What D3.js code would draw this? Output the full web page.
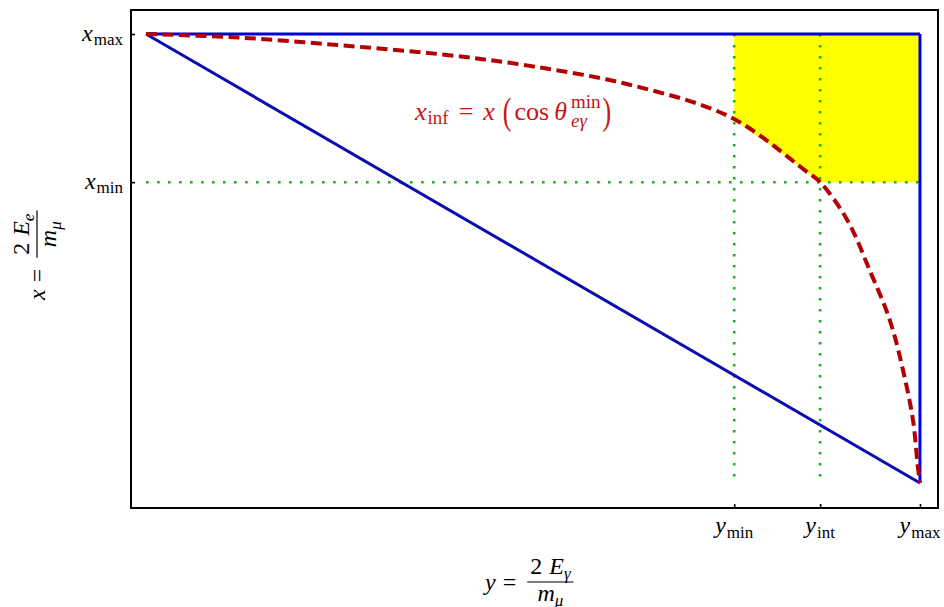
<!DOCTYPE html>
<html>
<head>
<meta charset="utf-8">
<script src="https://cdn.jsdelivr.net/npm/d3@7"></script>
<style>
  html, body { margin: 0; padding: 0; background: #fff; }
  svg text { font-family: 'Liberation Serif', 'DejaVu Serif', serif; }
</style>
</head>
<body>
<svg id="chart" width="944" height="607"></svg>
<script>
// Kinematic limits (reduced variables, arbitrary units)
const yLimitNames = ['min', 'int', 'max'];
const yLimitValues = [0.76, 0.871, 1.0];
const xLimitNames = ['max', 'min'];
const xLimitValues = [1.0, 0.67];

// Boundary of the allowed region: triangle corners (y, x)
const triangleY = [0, 1.0, 1.0, 0];
const triangleX = [1.0, 1.0, 0, 1.0];

// x_inf = x(cos θ_min) boundary curve, sampled (y, x)
const curveY = [0, 0.121, 0.251, 0.380, 0.496, 0.625, 0.755, 0.851, 0.871, 0.906, 0.935, 0.961, 0.978, 0.991, 0.997, 1.0];
const curveX = [1.0, 0.992, 0.975, 0.955, 0.929, 0.887, 0.815, 0.697, 0.670, 0.586, 0.474, 0.363, 0.252, 0.140, 0.040, 0.0];

const svg = d3.select('#chart');
const frame = { left: 131, right: 938, top: 10, bottom: 508 };

const sy = d3.scaleLinear().domain([-0.0194, 1.0233]).range([frame.left, frame.right]);
const sx = d3.scaleLinear().domain([-0.0557, 1.0535]).range([frame.bottom, frame.top]);

const yMin = yLimitValues[0], yInt = yLimitValues[1], yMax = yLimitValues[2];
const xMax = xLimitValues[0], xMin = xLimitValues[1];

// value of the sampled curve at a given y
function curveAt(y) {
  for (let i = 1; i < curveY.length; i++) {
    if (y <= curveY[i]) {
      const t = (y - curveY[i - 1]) / (curveY[i] - curveY[i - 1]);
      return curveX[i - 1] + t * (curveX[i] - curveX[i - 1]);
    }
  }
  return curveX[curveX.length - 1];
}

const curvePts = curveY.map((y, i) => [y, curveX[i]]);
const line = d3.line().x(d => sy(d[0])).y(d => sx(d[1]));
const smooth = d3.line().x(d => sy(d[0])).y(d => sx(d[1])).curve(d3.curveCatmullRom.alpha(0.5));

// Shaded region: above x_min, right of y_min, outside the x_inf curve
const arc = [[yMin, curveAt(yMin)], ...curvePts.filter(d => d[0] > yMin && d[0] < yInt), [yInt, xMin]];
const regionPath = smooth(arc) + 'L' + [[yMax, xMin], [yMax, xMax], [yMin, xMax]].map(d => sy(d[0]) + ',' + sx(d[1])).join('L') + 'Z';
svg.append('path')
  .attr('d', regionPath)
  .attr('fill', '#ffff00');

// Dotted guide lines
const green = '#14b814';
const guides = svg.append('g')
  .attr('stroke', green).attr('stroke-width', 2.6)
  .attr('stroke-dasharray', '2.6,8.4').attr('fill', 'none');
guides.append('path').attr('d', line([[0, xMin], [yMax, xMin]]));
guides.append('path').attr('d', line([[yMin, xMax], [yMin, 0]]));
guides.append('path').attr('d', line([[yInt, xMax], [yInt, 0]]));

// Triangle boundary
const triPts = triangleY.map((y, i) => [y, triangleX[i]]);
svg.append('path').attr('d', line([triPts[0], triPts[1]]))
  .attr('stroke', '#0000d2').attr('stroke-width', 3).attr('fill', 'none');
svg.append('path').attr('d', line([triPts[1], triPts[2]]))
  .attr('stroke', '#0000f0').attr('stroke-width', 3).attr('fill', 'none');
svg.append('path').attr('d', line([triPts[2], triPts[3]]))
  .attr('stroke', '#0c0cb0').attr('stroke-width', 3).attr('fill', 'none');

// x_inf curve
svg.append('path')
  .attr('d', smooth(curvePts))
  .attr('stroke', '#b30000').attr('stroke-width', 4)
  .attr('stroke-dasharray', '11,5.5').attr('fill', 'none');

// Frame
svg.append('rect')
  .attr('x', frame.left).attr('y', frame.top)
  .attr('width', frame.right - frame.left).attr('height', frame.bottom - frame.top)
  .attr('fill', 'none').attr('stroke', '#000').attr('stroke-width', 2);

// Axes with inward ticks; labels are set as math below
const axB = d3.axisBottom(sy).tickValues(yLimitValues).tickSizeInner(-4).tickSizeOuter(0).tickFormat('');
const axL = d3.axisLeft(sx).tickValues(xLimitValues).tickSizeInner(-4).tickSizeOuter(0).tickFormat('');
const gB = svg.append('g').attr('transform', `translate(0,${frame.bottom})`).call(axB);
const gL = svg.append('g').attr('transform', `translate(${frame.left},0)`).call(axL);
[gB, gL].forEach(g => { g.select('.domain').remove(); g.selectAll('.tick line').attr('stroke', '#000').attr('stroke-width', 1.6); });

// Lay out a row of math pieces; returns group and width
function mathRow(parent, parts, fill) {
  const g = parent.append('g');
  let cx = 0;
  parts.forEach(p => {
    cx += p.gap || 0;
    if (p.stack) {
      let w = 0;
      p.stack.forEach(s => {
        const t = g.append('text').attr('x', cx).attr('y', s.dy || 0)
          .attr('font-size', s.size).attr('font-style', s.italic ? 'italic' : 'normal')
          .attr('fill', fill).text(s.t);
        w = Math.max(w, t.node().getComputedTextLength());
      });
      cx += w;
    } else {
      const t = g.append('text').attr('x', cx).attr('y', p.dy || 0)
        .attr('font-size', p.size).attr('font-style', p.italic ? 'italic' : 'normal')
        .attr('fill', fill).text(p.t);
      if (p.scaleY) t.attr('transform', `translate(0,${p.dy || 0}) scale(1,${p.scaleY}) translate(0,${-(p.dy || 0)})`);
      cx += t.node().getComputedTextLength();
    }
  });
  return { g, w: cx };
}

const MAIN = 24, SUB = 17;

// Bottom tick labels
yLimitNames.forEach((name, i) => {
  const r = mathRow(svg, [
    { t: 'y', italic: true, size: MAIN },
    { t: name, size: SUB, dy: 5, gap: 1 }
  ], '#000');
  r.g.attr('transform', `translate(${sy(yLimitValues[i]) - r.w / 2},533)`);
});

// Left tick labels
xLimitNames.forEach((name, i) => {
  const r = mathRow(svg, [
    { t: 'x', italic: true, size: MAIN },
    { t: name, size: SUB, dy: 4, gap: 1 }
  ], '#000');
  r.g.attr('transform', `translate(${123 - r.w},${sx(xLimitValues[i]) + 7})`);
});

// Fraction-style axis label drawn around a bar at local y = 0
function fracLabel(parent, lhs, num, den) {
  const g = parent.append('g');
  const l = mathRow(g, lhs, '#000');
  l.g.attr('transform', 'translate(0,8)');
  const n = mathRow(g, num, '#000');
  const d = mathRow(g, den, '#000');
  const bw = Math.max(n.w, d.w) + 6;
  const x0 = l.w + 11;
  g.append('line').attr('x1', x0).attr('x2', x0 + bw).attr('y1', 0).attr('y2', 0)
    .attr('stroke', '#000').attr('stroke-width', 1.2);
  n.g.attr('transform', `translate(${x0 + (bw - n.w) / 2},-8)`);
  d.g.attr('transform', `translate(${x0 + (bw - d.w) / 2},19)`);
  return { g, w: x0 + bw };
}

const bl = fracLabel(svg,
  [{ t: 'y', italic: true, size: MAIN }, { t: '=', size: MAIN, gap: 7 }],
  [{ t: '2', size: MAIN }, { t: 'E', italic: true, size: MAIN, gap: 7 }, { t: 'γ', italic: true, size: SUB, dy: 5 }],
  [{ t: 'm', italic: true, size: MAIN }, { t: 'μ', italic: true, size: SUB, dy: 5 }]);
bl.g.attr('transform', `translate(485,582)`);

const ll = fracLabel(svg,
  [{ t: 'x', italic: true, size: MAIN }, { t: '=', size: MAIN, gap: 7 }],
  [{ t: '2', size: MAIN }, { t: 'E', italic: true, size: MAIN, gap: 7 }, { t: 'e', italic: true, size: SUB, dy: 5 }],
  [{ t: 'm', italic: true, size: MAIN }, { t: 'μ', italic: true, size: SUB, dy: 5 }]);
ll.g.attr('transform', `translate(37,300) rotate(-90)`);

// Curve annotation
const red = '#c81414';
const ann = mathRow(svg, [
  { t: 'x', italic: true, size: 26 },
  { t: 'inf', size: 19, dy: 4, gap: 1 },
  { t: '=', size: 26, gap: 10 },
  { t: 'x', italic: true, size: 26, gap: 10 },
  { t: '(', size: 26, gap: 8, scaleY: 1.45, dy: 4 },
  { t: 'cos', size: 26, gap: 3 },
  { t: 'θ', italic: true, size: 26, gap: 5 },
  { stack: [{ t: 'min', size: 19, dy: -12 }, { t: 'eγ', italic: true, size: 19, dy: 7 }], gap: 4 },
  { t: ')', size: 26, gap: 2, scaleY: 1.45, dy: 4 }
], red);
ann.g.attr('transform', `translate(415,120)`);
</script>
</body>
</html>
